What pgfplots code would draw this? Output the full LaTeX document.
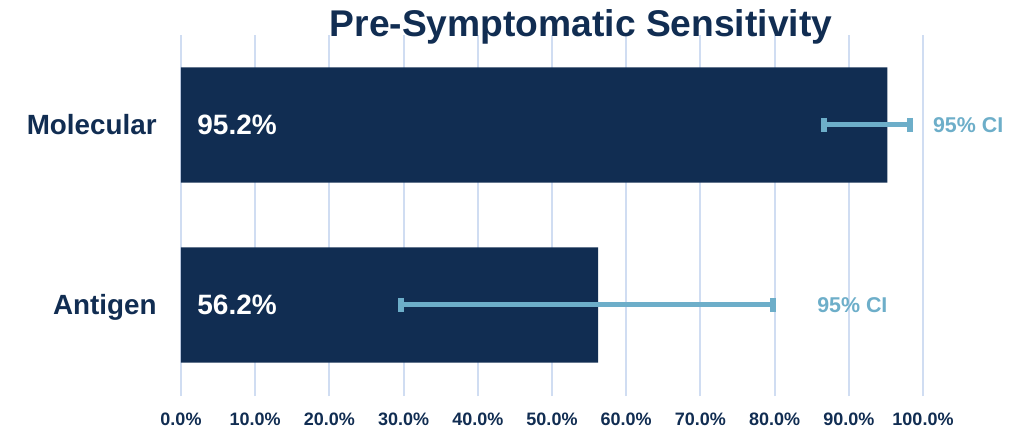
\documentclass[border=0pt]{standalone}
\usepackage{fontspec}
\setmainfont{Liberation Sans}
\usepackage{pgfplots}
\pgfplotsset{compat=1.18}
\definecolor{navy}{HTML}{112D52}
\definecolor{ci}{HTML}{6DAEC9}
\definecolor{gridc}{HTML}{D0DDF2}
\begin{document}
\begin{tikzpicture}
\begin{axis}[
  at={(0,0)}, anchor=south west,
  scale only axis,
  width=371bp, height=180.5bp,
  xmin=0, xmax=100,
  ymin=-0.506, ymax=1.5,
  axis line style={draw=none},
  xtick={0,10,...,100},
  xticklabels={0.0\%,10.0\%,20.0\%,30.0\%,40.0\%,50.0\%,60.0\%,70.0\%,80.0\%,90.0\%,100.0\%},
  xticklabel style={font=\fontsize{9bp}{10bp}\selectfont\bfseries, text=navy, anchor=base, inner sep=0pt, yshift=-14.5bp},
  ytick={0,1},
  yticklabels={Antigen,Molecular},
  yticklabel style={font=\fontsize{13.9bp}{16bp}\selectfont\bfseries, text=navy, anchor=base east, inner sep=0pt, xshift=-12bp, yshift=-5bp},
  major tick length=0pt,
  xmajorgrids,
  grid style={gridc, line width=1bp},
  clip=false,
]
\addplot[xbar, bar width=0.64, fill=navy, draw=none] coordinates {(56.2,0) (95.2,1)};
% 95% confidence intervals
\addplot[ci, line width=2.5bp, mark=|, mark size=3.5bp, mark options={line width=3bp}] coordinates {(86.7,1) (98.2,1)};
\addplot[ci, line width=2.5bp, mark=|, mark size=3.5bp, mark options={line width=3bp}] coordinates {(29.6,0) (79.8,0)};
\node[anchor=base west, inner sep=0pt, xshift=8bp, yshift=-5bp, text=white, font=\fontsize{14bp}{16bp}\selectfont\bfseries] at (axis cs:0,1) {95.2\%};
\node[anchor=base west, inner sep=0pt, xshift=8bp, yshift=-5bp, text=white, font=\fontsize{14bp}{16bp}\selectfont\bfseries] at (axis cs:0,0) {56.2\%};
\node[anchor=base west, inner sep=0pt, yshift=-4bp, text=ci, font=\fontsize{10.7bp}{12bp}\selectfont\bfseries] at (axis cs:101.3,1) {95\% CI};
\node[anchor=base west, inner sep=0pt, yshift=-4bp, text=ci, font=\fontsize{10.7bp}{12bp}\selectfont\bfseries] at (axis cs:85.7,0) {95\% CI};
\end{axis}
\node[anchor=base, text=navy, font=\fontsize{18.6bp}{22bp}\selectfont\bfseries] at (200bp,179.5bp) {Pre-Symptomatic Sensitivity};
\pgfresetboundingbox
\useasboundingbox (-90.5bp,-16bp) rectangle (418.5bp,198bp);
\end{tikzpicture}
\end{document}
